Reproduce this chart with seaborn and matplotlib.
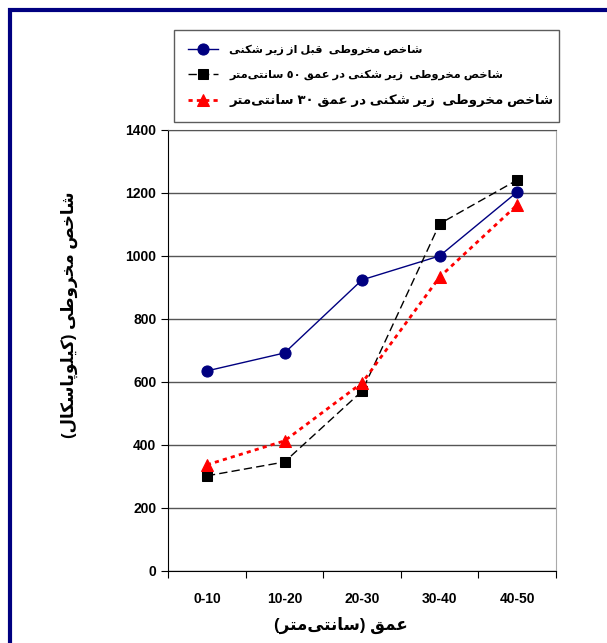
import matplotlib
matplotlib.use("Agg")
import numpy as np
import pandas as pd
import seaborn as sns
import matplotlib.pyplot as plt
from matplotlib.patches import Rectangle

# data
depths = ['0-10', '10-20', '20-30', '30-40', '40-50']
before = [635, 692, 924, 1000, 1203]
after_50 = [302, 346, 571, 1102, 1241]
after_30 = [337, 413, 597, 933, 1162]

lab_before = 'شاخص مخروطی  قبل از زیر شکنی'
lab_50 = 'شاخص مخروطی  زیر شکنی در عمق ٥٠ سانتی\u200cمتر'
lab_30 = 'شاخص مخروطی  زیر شکنی در عمق ٣٠ سانتی\u200cمتر'
ylab = 'شاخص مخروطی (کیلوپاسکال)'
xlab = 'عمق (سانتی\u200cمتر)'

# matplotlib has no arabic shaping, so do it by hand (presentation forms + visual order)
DUAL = {0x0628: 0xFE8F, 0x062A: 0xFE95, 0x062E: 0xFEA5, 0x0633: 0xFEB1, 0x0634: 0xFEB5,
        0x0635: 0xFEB9, 0x0637: 0xFEC1, 0x0639: 0xFEC9, 0x0642: 0xFED5, 0x0644: 0xFEDD,
        0x0645: 0xFEE1, 0x0646: 0xFEE5, 0x067E: 0xFB56, 0x06A9: 0xFB8E, 0x06CC: 0xFBFC}
RIGHT = {0x0627: 0xFE8D, 0x062F: 0xFEA9, 0x0631: 0xFEAD, 0x0632: 0xFEAF, 0x0648: 0xFEED}


def fa(s):
    out = []
    for i, c in enumerate(s):
        o = ord(c)
        if o not in DUAL and o not in RIGHT:
            if c != '\u200c':
                out.append(c)
            continue
        prev = s[i - 1] if i > 0 else None
        nxt = s[i + 1] if i + 1 < len(s) else None
        p = prev is not None and ord(prev) in DUAL
        n = o in DUAL and nxt is not None and (ord(nxt) in DUAL or ord(nxt) in RIGHT)
        base = DUAL.get(o, RIGHT.get(o))
        f = 3 if (p and n) else 1 if p else 2 if n else 0
        out.append(chr(base + f))
    tokens = []
    for c in out:
        if c.isdigit() and tokens and tokens[-1][0].isdigit():
            tokens[-1] += c
        else:
            tokens.append(c)
    mirror = {'(': ')', ')': '('}
    return ''.join(mirror.get(t, t) for t in reversed(tokens))


plt.rcParams['font.family'] = ['Liberation Sans', 'DejaVu Sans']
plt.rcParams['font.weight'] = 'bold'

x = np.arange(len(depths))
df = pd.DataFrame({'x': x, 'before': before, 'a50': after_50, 'a30': after_30})

fig = plt.figure(figsize=(6.07, 6.43), dpi=100)
ax = fig.add_axes([0.277, 0.112, 0.639, 0.686])

sns.lineplot(data=df, x='x', y='before', ax=ax, color='#000080', lw=1, marker='o',
             markersize=8, markeredgecolor='#000080', label=fa(lab_before))
sns.lineplot(data=df, x='x', y='a50', ax=ax, color='black', lw=1, marker='s',
             markersize=7, markeredgecolor='black', dashes=(6, 3), label=fa(lab_50))
sns.lineplot(data=df, x='x', y='a30', ax=ax, color='#ff0000', lw=2, marker='^',
             markersize=8, markeredgecolor='#ff0000', dashes=(1.5, 1.5), label=fa(lab_30))

ax.set_ylim(0, 1400)
ax.set_yticks(range(0, 1401, 200))
ax.yaxis.grid(True, color='#555555', lw=1)
ax.set_axisbelow(True)
ax.set_xlim(-0.5, len(depths) - 0.5)
ax.set_xticks(np.arange(-0.5, len(depths), 1.0))
ax.set_xticklabels([])
ax.set_xticks(x, minor=True)
ax.set_xticklabels(depths, minor=True)
ax.tick_params(axis='x', which='minor', length=0, pad=15, labelsize=10)
ax.tick_params(axis='x', which='major', length=5, direction='out', color='black')
ax.tick_params(axis='y', length=5, direction='out', labelsize=10, color='black')
for lab in ax.get_yticklabels() + ax.get_xticklabels(minor=True):
    lab.set_fontweight('bold')
ax.spines['left'].set_color('black')
ax.spines['bottom'].set_color('black')
ax.spines['right'].set_color('#aaaaaa')
ax.spines['top'].set_color('#555555')

ax.set_xlabel(fa(xlab), fontsize=12, fontweight='bold')
ax.xaxis.set_label_coords(0.446, -0.104)
ax.set_ylabel(fa(ylab), fontsize=12, fontweight='bold')
ax.yaxis.set_label_coords(-0.232, 0.58)

ax.get_legend().remove()
handles, labels = ax.get_legend_handles_labels()
leg = fig.legend(handles, labels, loc='upper left', bbox_to_anchor=(0.287, 0.813, 0.634, 0.14),
                 mode='expand', borderaxespad=0, frameon=True, fancybox=False,
                 edgecolor='#333333', prop={'weight': 'bold', 'size': 8.2},
                 handlelength=2.6, handletextpad=1.0, borderpad=1.25, labelspacing=1.25)
leg.get_frame().set_linewidth(1)
leg.get_texts()[2].set_fontsize(9.6)

# dark blue frame round the chart
fig.add_artist(Rectangle((0.016, -0.2), 1.2, 1.184, transform=fig.transFigure,
                         fill=False, edgecolor='#000080', lw=3))

fig.savefig('out.png', dpi=100)
